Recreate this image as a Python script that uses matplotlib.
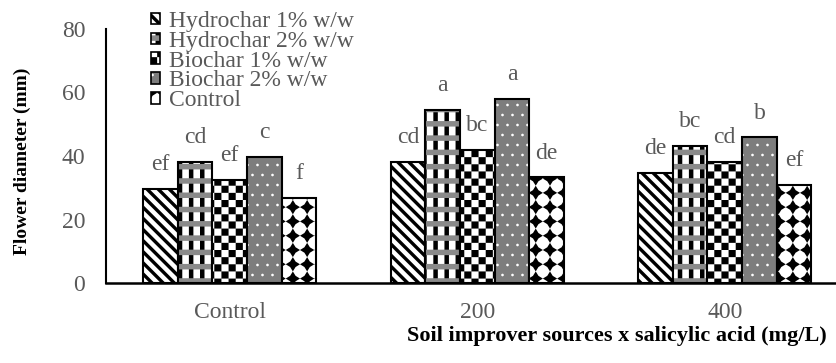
"""Flower diameter by soil improver source and salicylic acid dose (grouped bars)."""
import warnings

import numpy as np
import matplotlib
matplotlib.use("Agg")
import matplotlib.pyplot as plt
import matplotlib.hatch as mhatch
from matplotlib.path import Path
from matplotlib.patches import Patch
from matplotlib.legend_handler import HandlerTuple

warnings.filterwarnings("ignore")

# ---------------------------------------------------------------------------
# Data
# ---------------------------------------------------------------------------
groups = ["Control", "200", "400"]
series_names = ["Hydrochar 1% w/w", "Hydrochar 2% w/w", "Biochar 1% w/w",
                "Biochar 2% w/w", "Control"]

hydrochar_1 = [29.6, 38.2, 34.7]
hydrochar_2 = [38.2, 54.5, 43.2]
biochar_1   = [32.4, 41.9, 38.2]
biochar_2   = [39.8, 57.9, 45.9]
control     = [26.8, 33.3, 30.9]

letters_h1 = ["ef", "cd", "de"]
letters_h2 = ["cd", "a", "bc"]
letters_b1 = ["ef", "bc", "cd"]
letters_b2 = ["c", "a", "b"]
letters_c  = ["f", "de", "ef"]


# ---------------------------------------------------------------------------
# Custom fill patterns (filled polygons in the unit hatch cell)
# ---------------------------------------------------------------------------
def register_hatch(key, polys):
    polys = [np.asarray(p, float) for p in polys]

    class _Hatch(mhatch.HatchPatternBase):
        def __init__(self, hatch, density):
            self.num_vertices = (sum(len(p) + 1 for p in polys)
                                 if key in hatch else 0)

        def set_vertices_and_codes(self, vertices, codes):
            i = 0
            for p in polys:
                n = len(p)
                vertices[i:i + n] = p
                vertices[i + n] = p[0]
                codes[i] = Path.MOVETO
                codes[i + 1:i + n] = Path.LINETO
                codes[i + n] = Path.CLOSEPOLY
                i += n + 1

    mhatch._hatch_types.append(_Hatch)


def rect(x0, y0, w, h):
    return [(x0, y0), (x0 + w, y0), (x0 + w, y0 + h), (x0, y0 + h)]


def circle(cx, cy, r, n=20):
    t = np.linspace(0, 2 * np.pi, n, endpoint=False)
    return np.column_stack([cx + r * np.cos(t), cy + r * np.sin(t)])


def star(cx, cy, r_out, r_in):
    t = np.arange(8) * np.pi / 4
    r = np.where(np.arange(8) % 2 == 0, r_out, r_in)
    return np.column_stack([cx + r * np.cos(t), cy + r * np.sin(t)])


# diagonal stripes "\"
n, w = 9, 0.048
register_hatch("S", [[(k / n + 0.1, -0.1), (k / n + 0.1 + w, -0.1),
                      (k / n - 1.1 + w, 1.1), (k / n - 1.1, 1.1)]
                     for k in range(-1, 2 * n + 2)])
# vertical columns
n = 9
register_hatch("V", [rect(k / n, -0.1, 0.045, 1.2) for k in range(n)])
# horizontal bands
n = 7
register_hatch("B", [rect(-0.1, k / n + 0.02, 1.2, 0.055) for k in range(n)])
# checkerboard
n = 14
register_hatch("K", [rect(i / n, j / n, 1 / n, 1 / n)
                     for i in range(n) for j in range(n) if (i + j) % 2 == 0])
# small staggered dots
n = 10
register_hatch("D", [circle((i + 0.25 + 0.5 * (j % 2)) / n, (j + 0.5) / n, 0.014, 8)
                     for i in range(n) for j in range(n)])
# black four-point diamonds
n = 7
register_hatch("C", [star((i + 0.5) / n, (j + 0.5) / n, 0.5 / n, 0.27 / n)
                     for i in range(n) for j in range(n)])

# ---------------------------------------------------------------------------
# Plot
# ---------------------------------------------------------------------------
plt.rcParams["font.family"] = ["Liberation Serif", "DejaVu Serif"]
plt.rcParams["hatch.linewidth"] = 0.0

values  = [hydrochar_1, hydrochar_2, biochar_1, biochar_2, control]
letters = [letters_h1, letters_h2, letters_b1, letters_b2, letters_c]
layers  = [
    [("white", "black", "S")],
    [("white", "black", "V"), ("none", "#8a8a8a", "B")],
    [("white", "black", "K")],
    [("#7d7d7d", "white", "D")],
    [("white", "black", "C")],
]

grey = "#595959"
fig = plt.figure(figsize=(8.37, 3.63), dpi=100)
ax = fig.add_axes([106 / 837, 80 / 363, 742.5 / 837, 254 / 363])

x = np.arange(len(groups))
width = 0.14
handles = []
for k, (vals, lay, lets) in enumerate(zip(values, layers, letters)):
    pos = x + (k - 2) * width
    parts = []
    for face, hcol, hatch in lay:
        ax.bar(pos, vals, width, facecolor=face, edgecolor=hcol, hatch=hatch,
               linewidth=0)
        parts.append(Patch(facecolor=face, edgecolor=hcol, hatch=hatch, linewidth=0))
    ax.bar(pos, vals, width, facecolor="none", edgecolor="black", linewidth=1.5)
    parts.append(Patch(facecolor="none", edgecolor="black", linewidth=1.2))
    handles.append(tuple(parts))
    for xp, v, t in zip(pos, vals, lets):
        ax.annotate(t, (xp, v), xytext=(0, 13.5), textcoords="offset points",
                    ha="center", va="baseline", fontsize=17, color=grey)

ax.set_xlim(-0.5, 2.5)
ax.set_ylim(0, 80)
ax.set_yticks([0, 20, 40, 60, 80])
ax.set_xticks(x)
ax.set_xticklabels(groups)
ax.tick_params(axis="both", length=0, labelsize=17, labelcolor=grey)
ax.tick_params(axis="y", pad=15)
ax.tick_params(axis="x", pad=14)
for s in ("top", "right"):
    ax.spines[s].set_visible(False)
ax.spines["left"].set_linewidth(1.5)
ax.spines["bottom"].set_linewidth(1.8)

ax.set_ylabel("Flower diameter (mm)", fontsize=14, fontweight="bold", va="center")
ax.yaxis.set_label_coords(-84 / 742.5, 122 / 254)
ax.set_xlabel("Soil improver sources x salicylic acid (mg/L)", fontsize=16,
              fontweight="bold", ha="right", va="center")
ax.xaxis.set_label_coords(721 / 742.5, -53 / 254)

leg = ax.legend(handles, series_names, handler_map={tuple: HandlerTuple(ndivide=1, pad=0)},
                loc="upper left", bbox_to_anchor=(151 / 837, 1 - 11 / 363),
                bbox_transform=fig.transFigure, frameon=False, fontsize=17,
                borderpad=0, borderaxespad=0, handlelength=0.38, handleheight=0.38,
                handletextpad=0.38, labelspacing=-0.05)
for t in leg.get_texts():
    t.set_color(grey)

fig.savefig("out.png", dpi=100)
